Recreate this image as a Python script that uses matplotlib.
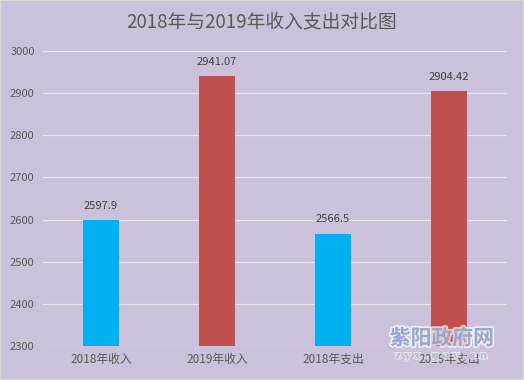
import matplotlib
matplotlib.use("Agg")
import matplotlib.pyplot as plt
import matplotlib.patheffects as pe

plt.rcParams['font.family'] = ['Noto Sans CJK SC', 'DejaVu Sans']

categories = ['2018年收入', '2019年收入', '2018年支出', '2019年支出']
values = [2597.9, 2941.07, 2566.5, 2904.42]
labels = ['2597.9', '2941.07', '2566.5', '2904.42']
colors = ['#00B0F0', '#C0504D', '#00B0F0', '#C0504D']
yticks = [2300, 2400, 2500, 2600, 2700, 2800, 2900, 3000]

bg = '#CCC1DA'
txt = '#595959'

fig = plt.figure(figsize=(5.24, 3.8), dpi=100, facecolor=bg)
ax = fig.add_axes([43/524, 1 - 346/380, (507-43)/524, (346-51)/380], facecolor=bg)

x = list(range(len(categories)))
ax.bar(x, [v - 2300 for v in values], bottom=2300, width=0.31, color=colors, zorder=3)
for xi, v, lab in zip(x, values, labels):
    ax.text(xi, v + 22, lab, ha='center', va='bottom', fontsize=8, color='#404040', zorder=4)

ax.set_xlim(-0.5, 3.5)
ax.set_ylim(2300, 3000)
ax.set_yticks(yticks)
ax.set_yticklabels([str(t) for t in yticks], fontsize=8, color=txt)
ax.set_xticks(x)
ax.set_xticklabels(categories, fontsize=8.5, color=txt)
ax.grid(axis='y', color='#E8E4EE', linewidth=0.9, zorder=0)
for s in ax.spines.values():
    s.set_visible(False)
ax.tick_params(axis='both', length=0, pad=6)
ax.tick_params(axis='x', pad=5)

fig.text(262/524, 1 - 22/380, '2018年与2019年收入支出对比图', ha='center', va='center',
         fontsize=13.5, color=txt)

# watermark
fig.text(442/524, 1 - 338/380, '紫阳政府网', ha='center', va='center', fontsize=15,
         fontweight='bold', color='#8C9CC8', alpha=0.85, zorder=5,
         path_effects=[pe.withStroke(linewidth=2.5, foreground='white', alpha=0.7)])
fig.text(441/524, 1 - 356/380, 'z y x . g o v . c n', ha='center', va='center', fontsize=7.5,
         family='DejaVu Serif', fontweight='bold', color='#A8B0D0', alpha=0.8, zorder=5,
         path_effects=[pe.withStroke(linewidth=1.5, foreground='white', alpha=0.6)])

# border
fig.patches.append(plt.Rectangle((0, 0), 1, 1, transform=fig.transFigure, fill=False,
                                 edgecolor='#D9D9D9', linewidth=1.5))

fig.savefig('out.png', dpi=100, facecolor=bg)
